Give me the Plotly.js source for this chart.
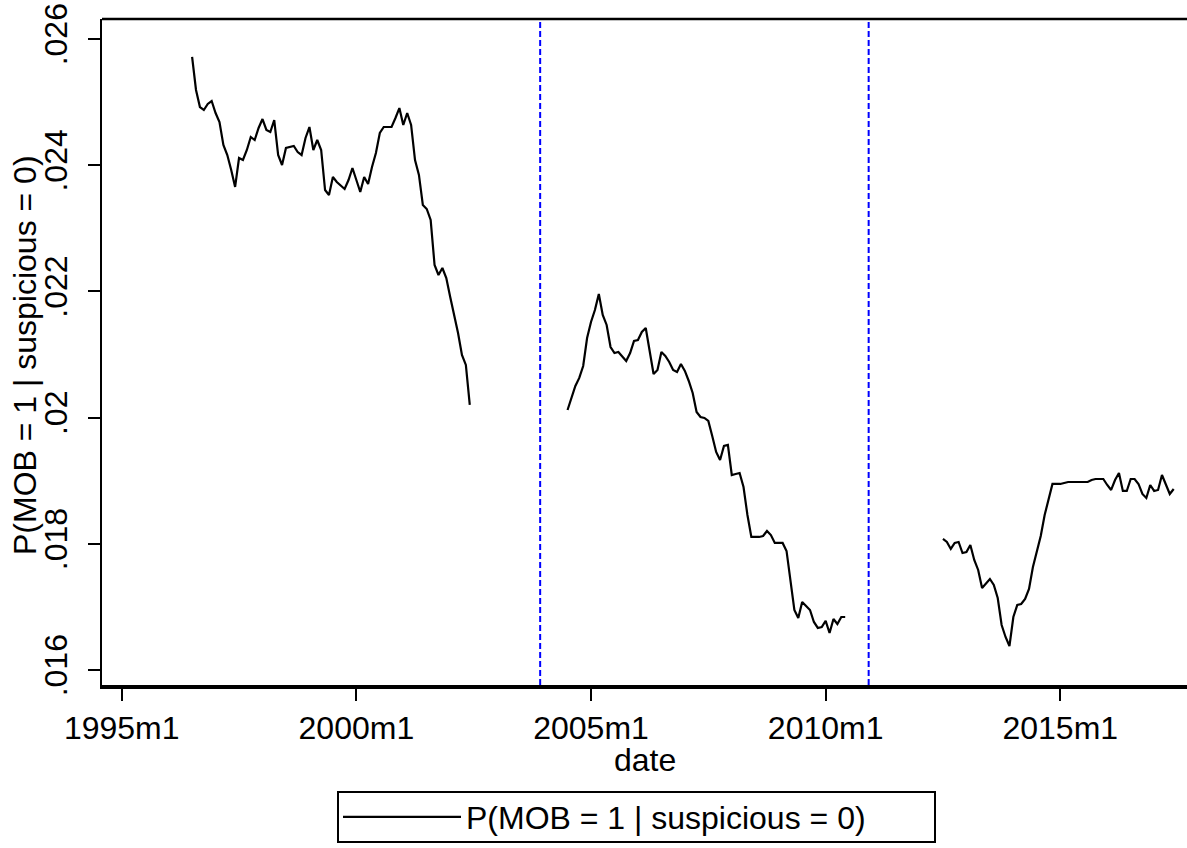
<!DOCTYPE html>
<html>
<head>
<meta charset="utf-8">
<script src="https://cdn.plot.ly/plotly-3.0.1.min.js"></script>
<style>
html,body{margin:0;padding:0;background:#fff;overflow:hidden;}
#chart{width:1187px;height:848px;}
</style>
</head>
<body>
<div id="chart"></div>
<script>
// ---- data (monthly values) ----
const seriesName = "P(MOB = 1 | suspicious = 0)";
const xTitle = "date";

const seg1Start = "1996m7";
const seg1 = [
  0.025715,0.025192,0.024922,0.024875,0.024970,0.025017,0.024827,0.024685,0.024320,0.024162,
  0.023924,0.023655,0.024114,0.024082,0.024241,0.024447,0.024399,0.024590,0.024732,0.024558,
  0.024526,0.024716,0.024162,0.024003,0.024273,0.024288,0.024304,0.024209,0.024162,0.024431,
  0.024605,0.024241,0.024399,0.024241,0.023607,0.023528,0.023813,0.023734,0.023670,0.023623,
  0.023765,0.023956,0.023765,0.023575,0.023813,0.023702,0.023971,0.024193,0.024510,0.024605,
  0.024605,0.024605,0.024748,0.024906,0.024637,0.024827,0.024637,0.024082,0.023845,0.023369,
  0.023306,0.023132,0.022418,0.022260,0.022371,0.022212,0.021911,0.021626,0.021341,0.020992,
  0.020834,0.020200
];

const seg2Start = "2004m7";
const seg2 = [
  0.020120,0.020295,0.020501,0.020628,0.020818,0.021261,0.021515,0.021705,0.021959,0.021626,
  0.021468,0.021119,0.021024,0.021040,0.020976,0.020897,0.021024,0.021214,0.021230,0.021357,
  0.021420,0.021040,0.020691,0.020754,0.021040,0.020976,0.020881,0.020754,0.020723,0.020849,
  0.020739,0.020580,0.020390,0.020089,0.020010,0.019994,0.019946,0.019708,0.019455,0.019328,
  0.019550,0.019566,0.019090,0.019106,0.019122,0.018900,0.018456,0.018108,0.018108,0.018108,
  0.018124,0.018203,0.018139,0.018013,0.018013,0.018013,0.017886,0.017426,0.016951,0.016824,
  0.017078,0.017014,0.016951,0.016761,0.016666,0.016681,0.016777,0.016586,0.016808,0.016729,
  0.016840,0.016840
];

const seg3Start = "2012m7";
const seg3 = [
  0.018076,0.018029,0.017918,0.018013,0.018029,0.017854,0.017870,0.017981,0.017743,0.017585,
  0.017300,0.017363,0.017442,0.017347,0.017141,0.016713,0.016523,0.016380,0.016840,0.017030,
  0.017046,0.017125,0.017284,0.017632,0.017870,0.018124,0.018456,0.018710,0.018948,0.018948,
  0.018948,0.018964,0.018979,0.018979,0.018979,0.018979,0.018979,0.018979,0.019011,0.019027,
  0.019027,0.019027,0.018932,0.018853,0.019011,0.019122,0.018837,0.018837,0.019027,0.019027,
  0.018948,0.018789,0.018726,0.018932,0.018837,0.018853,0.019090,0.018932,0.018789,0.018868
];

const vlineDates = ["2003m12", "2010m12"];

const xTickLabels = ["1995m1", "2000m1", "2005m1", "2010m1", "2015m1"];
const yTickVals = [0.016, 0.018, 0.020, 0.022, 0.024, 0.026];
const yTickLabels = [".016", ".018", ".02", ".022", ".024", ".026"];

// ---- helpers ----
function tm(s) { // Stata-style "YYYYmM" -> decimal year
  const p = s.split("m");
  return (+p[0]) + ((+p[1]) - 1) / 12;
}
function buildSegment(start, vals) {
  const t0 = tm(start);
  return { x: vals.map((v, k) => t0 + k / 12), y: vals.slice() };
}

const segs = [buildSegment(seg1Start, seg1), buildSegment(seg2Start, seg2), buildSegment(seg3Start, seg3)];
let X = [], Y = [];
segs.forEach((s, i) => {
  if (i > 0) { X.push(null); Y.push(null); }
  X = X.concat(s.x); Y = Y.concat(s.y);
});

const FONT = "Liberation Sans, Arial, sans-serif";
const FS = 32;

const W = 1187, H = 848;
const M = { l: 102, r: 0, t: 19, b: 163 };
const PW = W - M.l - M.r, PH = H - M.t - M.b;
const px2x = p => (p - M.l) / PW;          // pixel x -> paper x
const px2y = p => 1 - (p - M.t) / PH;      // pixel y -> paper y

const trace = {
  type: "scatter", mode: "lines", x: X, y: Y, name: seriesName,
  connectgaps: false,
  line: { color: "#000000", width: 2.2 },
  hoverinfo: "skip"
};

const shapes = vlineDates.map(d => ({
  type: "line", xref: "x", yref: "paper", x0: tm(d), x1: tm(d), y0: 0, y1: 1,
  line: { color: "#0000ff", width: 2, dash: "6px,3px" }
}));
// top frame line
shapes.push({
  type: "line", xref: "paper", yref: "paper", x0: 0, x1: 1, y0: 1, y1: 1,
  line: { color: "#000000", width: 2.5 }
});
// legend frame
shapes.push({
  type: "rect", xref: "paper", yref: "paper",
  x0: px2x(338), x1: px2x(935), y0: px2y(842), y1: px2y(792),
  line: { color: "#000000", width: 2 }, fillcolor: "rgba(0,0,0,0)"
});

const annotations = [
  { // x-axis title
    text: xTitle, xref: "paper", yref: "paper",
    x: 0.5, y: px2y(760), xanchor: "center", yanchor: "middle",
    showarrow: false, font: { family: FONT, size: FS, color: "#000" }
  },
  { // y-axis title
    text: seriesName, xref: "paper", yref: "paper", textangle: -90,
    x: px2x(25), y: px2y(355), xanchor: "center", yanchor: "middle",
    showarrow: false, font: { family: FONT, size: FS, color: "#000" }
  }
];

const layout = {
  width: W, height: H,
  margin: { l: M.l, r: M.r, t: M.t, b: M.b, pad: 0 },
  paper_bgcolor: "#ffffff", plot_bgcolor: "#ffffff",
  font: { family: FONT, size: FS, color: "#000000" },
  showlegend: true,
  xaxis: {
    range: [1994.58, 2017.70],
    tickmode: "array",
    tickvals: xTickLabels.map(tm),
    ticktext: xTickLabels,
    ticks: "outside", ticklen: 12, tickwidth: 2, tickcolor: "#000",
    showline: true, linecolor: "#000", linewidth: 3.5,
    showgrid: false, zeroline: false,
    tickfont: { family: FONT, size: FS, color: "#000" },
    automargin: false
  },
  yaxis: {
    range: [0.015762, 0.026317],
    tickmode: "array",
    tickvals: yTickVals,
    ticktext: yTickLabels,
    tickangle: -90,
    ticks: "outside", ticklen: 12, tickwidth: 2, tickcolor: "#000",
    showline: true, linecolor: "#000", linewidth: 2.5,
    showgrid: false, zeroline: false,
    tickfont: { family: FONT, size: FS, color: "#000" },
    ticklabelstandoff: 8,
    automargin: false
  },
  legend: {
    orientation: "h",
    x: px2x(338), xanchor: "left",
    yref: "container", y: (H - 817) / H, yanchor: "middle",
    borderwidth: 0, bgcolor: "rgba(0,0,0,0)",
    itemwidth: 118,
    font: { family: FONT, size: FS, color: "#000" }
  },
  annotations: annotations,
  shapes: shapes
};

Plotly.newPlot("chart", [trace], layout, { displayModeBar: false, staticPlot: true });
</script>
</body>
</html>
